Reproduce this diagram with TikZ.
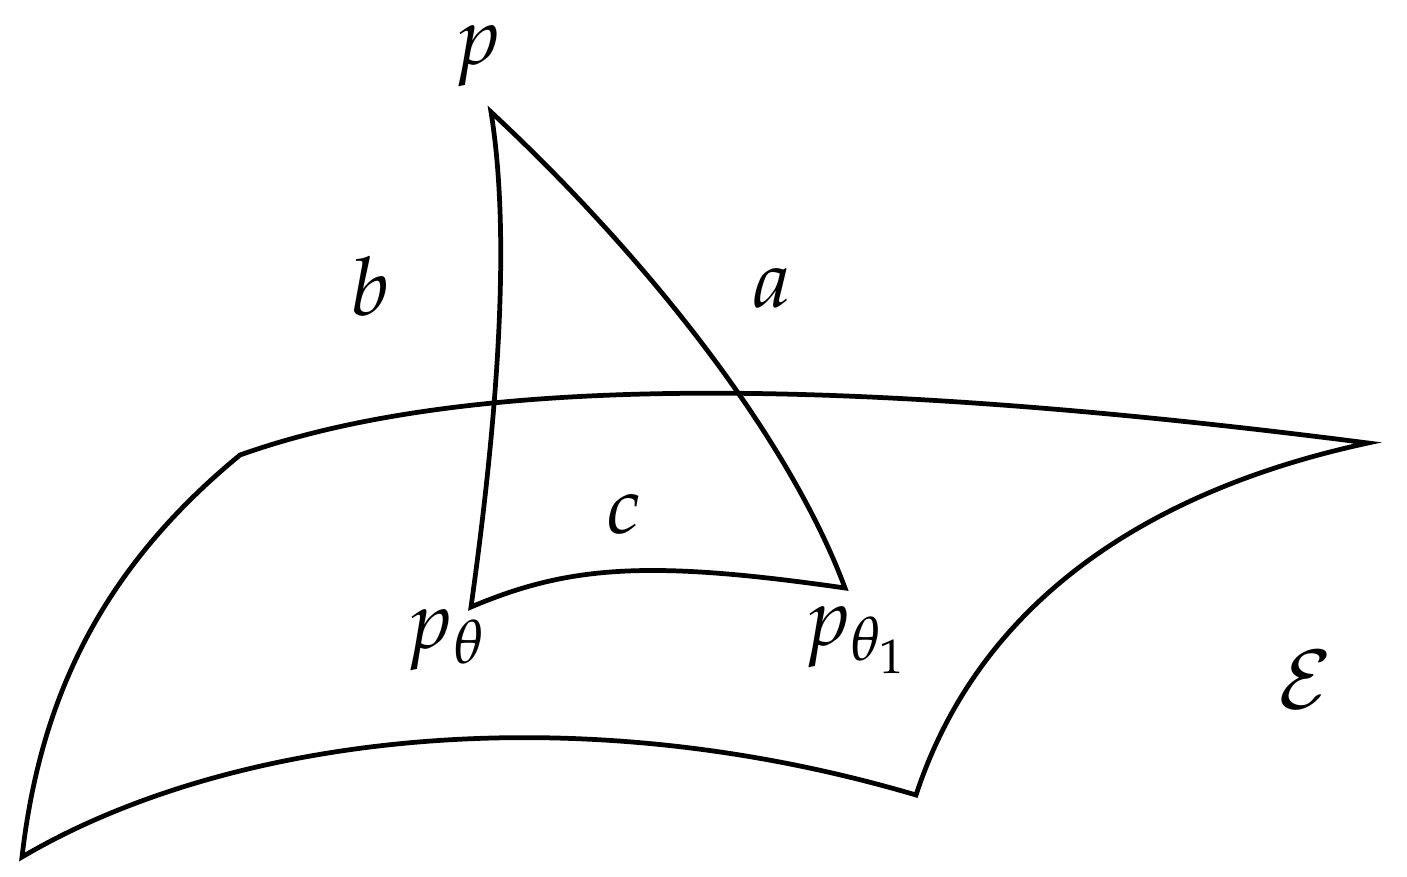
\documentclass[tikz,border=0pt]{standalone}
\usepackage{mathpazo}
\begin{document}
\begin{tikzpicture}[x=0.01cm, y=-0.01cm,
        lbl/.style={font=\fontsize{23}{28}\selectfont, inner sep=0pt, anchor=base},
        edge/.style={line width=1.35pt}]
    \useasboundingbox (0,0) rectangle (1407,876);
    % surface corners
    \coordinate (EA) at (240,455);
    \coordinate (EB) at (1368,443);
    \coordinate (EC) at (916,795);
    \coordinate (ED) at (22,857);
    % triangle vertices
    \coordinate (P) at (491,112);
    \coordinate (Pt) at (471,607);
    \coordinate (Pt1) at (845,588);
    \draw[edge] (EA) .. controls (450,380) and (800,370) .. (EB)
        .. controls (1150,490) and (980,600) .. (EC)
        .. controls (560,690) and (220,740) .. (ED)
        .. controls (40,700) and (100,570) .. (EA) -- cycle;
    \draw[edge] (P) .. controls (510,230) and (500,400) .. (Pt)
        .. controls (570,565) and (650,560) .. (Pt1)
        .. controls (790,440) and (650,260) .. (P) -- cycle;
    \node[lbl] (lp) at (477,65) {$p$};
    \node[lbl] (lb) at (370,315) {$b$};
    \node[lbl] (la) at (772,307) {$a$};
    \node[lbl] (lc) at (624,533) {$c$};
    \node[lbl] (lpt) at (446,648) {$p_\theta$};
    \node[lbl] (lpt1) at (856,645) {$p_{\theta_1}$};
    \node[lbl] (lE) at (1305,708) {$\mathcal{E}$};
\end{tikzpicture}
\end{document}
